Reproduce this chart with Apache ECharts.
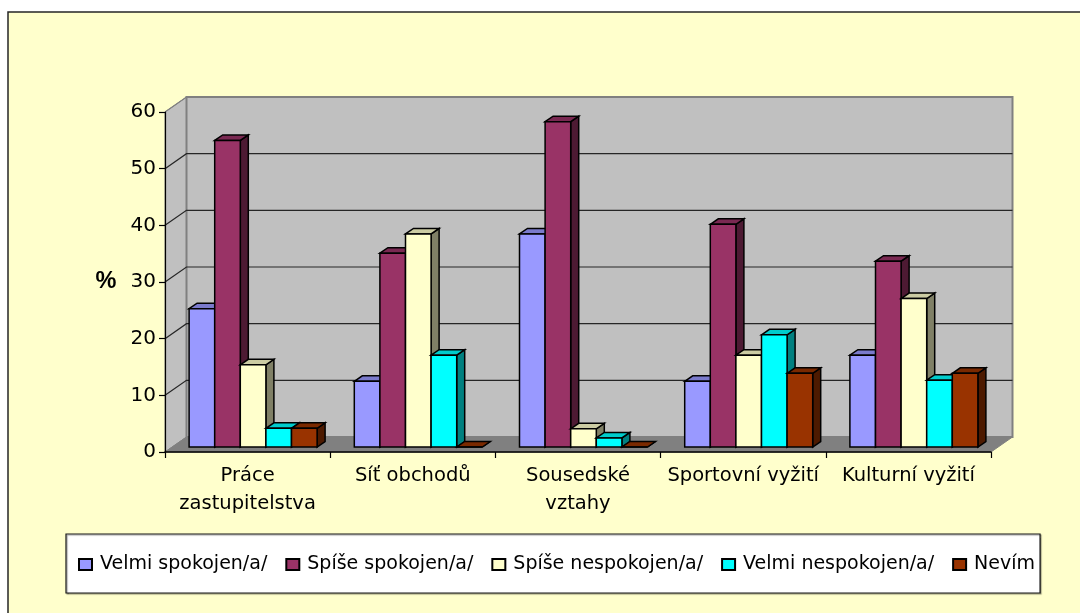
<!DOCTYPE html>
<html><head><meta charset="utf-8">
<style>html,body{margin:0;padding:0;background:#fff}#c{width:1080px;height:613px}</style>
<script src="https://cdn.jsdelivr.net/npm/echarts@6/dist/echarts.min.js"></script></head>
<body><div id="c"></div>
<script>
const categories = ['Práce\nzastupitelstva','Síť obchodů','Sousedské\nvztahy','Sportovní vyžití','Kulturní vyžití'];
const velmiSpokojen = [24.4,11.6,37.6,11.6,16.2];
const spiseSpokojen = [54.1,34.2,57.4,39.3,32.8];
const spiseNespokojen = [14.5,37.6,3.2,16.2,26.2];
const velmiNespokojen = [3.3,16.2,1.6,19.8,11.8];
const nevim = [3.3,0,0,13,13];
const yTicks = [0,10,20,30,40,50,60];
const seriesNames = ['Velmi spokojen/a/','Spíše spokojen/a/','Spíše nespokojen/a/','Velmi nespokojen/a/','Nevím'];
const seriesValues = [velmiSpokojen,spiseSpokojen,spiseNespokojen,velmiNespokojen,nevim];
const colors = [
  {front:'#9999FF',top:'#7A7ACC',side:'#4D4D80'},
  {front:'#993366',top:'#7A2952',side:'#4D1A33'},
  {front:'#FFFFCC',top:'#CCCCA3',side:'#808066'},
  {front:'#00FFFF',top:'#00CCCC',side:'#008080'},
  {front:'#993300',top:'#7A2900',side:'#4D1A00'}
];
const FONT='"DejaVu Sans"';
const DX=21.5, DY=15;           // wall depth
const BW=25.6, BDX=8, BDY=5.5;  // bar width, bar depth
const FX=5.5, FY=5;             // bar front plane offset from axis plane

function wallItem(params, api){
  const g=params.coordSys, l=g.x, r=g.x+g.width, t=g.y, b=g.y+g.height;
  const children=[
    {type:'polygon',shape:{points:[[l,t],[l+DX,t-DY],[l+DX,b-DY],[l,b]]},style:{fill:'#C0C0C0',stroke:'#808080',lineWidth:1}},
    {type:'polygon',shape:{points:[[l+DX,t-DY],[r+DX,t-DY],[r+DX,b-DY],[l+DX,b-DY]]},style:{fill:'#C0C0C0',stroke:'#808080',lineWidth:2}},
    {type:'polygon',shape:{points:[[l,b],[r,b],[r+DX,b-DY],[l+DX,b-DY]]},style:{fill:'#808080',stroke:'#808080',lineWidth:1}}
  ];
  return {type:'group',children};
}
function gridItem(params, api){
  const g=params.coordSys, l=g.x, r=g.x+g.width;
  const y=api.coord([0,api.value(1)])[1];
  const v=api.value(1);
  if(v===0) return {type:'group',children:[]};
  const stroke=(v===60)?'#808080':'#262626';
  return {type:'polyline',shape:{points:[[l,y],[l+DX,y-DY],[r+DX,y-DY]]},style:{fill:'none',stroke,lineWidth:1.2}};
}
function barItem(si){
  return function(params, api){
    const p=api.coord([api.value(0),api.value(1)]);
    const p0=api.coord([api.value(0),0]);
    const x=p[0]+FX-2.5*BW+si*BW, y=p[1]-FY, by=p0[1]-FY, w=BW;
    const c=colors[si];
    const ln={stroke:'#000',lineWidth:1.5,lineJoin:'miter'};
    return {type:'group',children:[
      {type:'polygon',shape:{points:[[x+w,y],[x+w+BDX,y-BDY],[x+w+BDX,by-BDY],[x+w,by]]},style:{fill:c.side,...ln}},
      {type:'polygon',shape:{points:[[x,y],[x+BDX,y-BDY],[x+w+BDX,y-BDY],[x+w,y]]},style:{fill:c.top,...ln}},
      {type:'rect',shape:{x,y,width:w,height:by-y},style:{fill:c.front,...ln}}
    ]};
  };
}
const series=[
  {type:'custom',name:'walls',z:0,silent:true,clip:false,renderItem:wallItem,data:[[0,0]],encode:{x:0,y:1}},
  {type:'custom',name:'gridlines',z:0,silent:true,clip:false,renderItem:gridItem,data:yTicks.map(v=>[0,v]),encode:{x:0,y:1}}
];
seriesNames.forEach((n,si)=>{
  series.push({type:'custom',name:n,z:2+si,clip:false,renderItem:barItem(si),
    itemStyle:{color:colors[si].front,borderColor:'#000',borderWidth:1.5},
    encode:{x:0,y:1},
    data:seriesValues[si].map((v,i)=>[i,v])});
});
const chart=echarts.init(document.getElementById('c'),null,{renderer:'canvas'});
chart.setOption({
  animation:false,
  backgroundColor:'#fff',
  graphic:[{type:'rect',z:-10,silent:true,shape:{x:8,y:12,width:1080,height:610},style:{fill:'#FFFFCC',stroke:'#262626',lineWidth:1.5}}],
  grid:{left:165,right:89,top:112,bottom:161,containLabel:false},
  xAxis:{type:'category',data:categories,z:5,
    axisLine:{lineStyle:{color:'#000',width:1.5}},
    axisTick:{show:true,alignWithLabel:false,length:6,lineStyle:{color:'#000',width:1.2}},
    axisLabel:{color:'#000',fontFamily:FONT,fontSize:19.5,lineHeight:28,margin:10,interval:0},
    splitLine:{show:false}},
  yAxis:{type:'value',min:0,max:60,interval:10,z:5,
    name:'%',nameLocation:'middle',nameRotate:0,nameGap:48.5,
    nameTextStyle:{color:'#000',fontFamily:'"Liberation Sans"',fontWeight:'bold',fontSize:23.5},
    axisLine:{show:true,lineStyle:{color:'#000',width:1.2}},
    axisTick:{show:true,length:6,lineStyle:{color:'#000',width:1.2}},
    axisLabel:{color:'#000',fontFamily:FONT,fontSize:20,margin:9},
    splitLine:{show:false}},
  legend:{data:seriesNames,left:66,top:534,orient:'horizontal',selectedMode:false,
    icon:'rect',itemWidth:13,itemHeight:11,itemGap:18,
    padding:[21,5,19,12],
    backgroundColor:'#fff',borderColor:'#1a1a1a',borderWidth:1.2,
    shadowColor:'rgba(0,0,0,0.4)',shadowOffsetX:1,shadowOffsetY:1,shadowBlur:1,
    textStyle:{color:'#000',fontFamily:FONT,fontSize:19,padding:[0,0,0,3]}},
  series
});
</script></body></html>
